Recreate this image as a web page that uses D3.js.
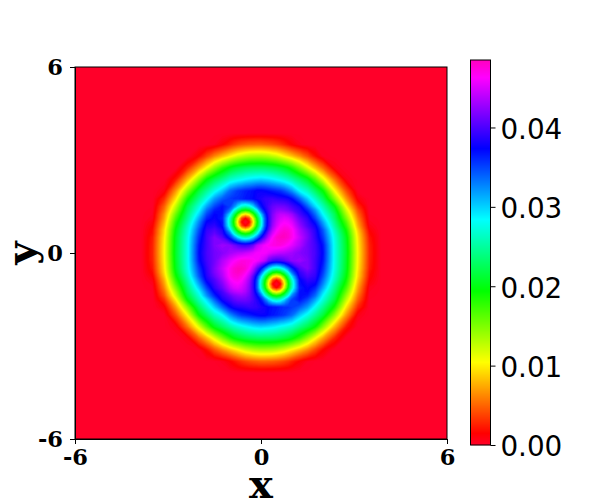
<!DOCTYPE html>
<html>
<head>
<meta charset="utf-8">
<title>Density map</title>
<style>
  html, body { margin: 0; padding: 0; background: #fff; }
  svg { display: block; }
  .main-axis text { font-family: "DejaVu Serif", serif; font-weight: bold; font-size: 22.5px; fill: #000; }
  .bar-axis text { font-family: "DejaVu Sans", sans-serif; font-size: 27.8px; fill: #000; }
  .axis-title { font-family: "DejaVu Serif", serif; font-weight: bold; font-size: 40px; fill: #000; }
</style>
</head>
<body>
<div id="chart"></div>
<script src="https://d3js.org/d3.v7.min.js"></script>
<script>
// grid positions of the estimated samples (finer around the two dark cores)
var xValues = [-3.875,-3.5,-3.125,-2.75,-2.375,-2,-1.75,-1.5,-1.25,-1,-0.875,-0.75,-0.625,-0.5,-0.375,-0.25,-0.125,0,0.125,0.25,0.375,0.5,0.625,0.75,0.875,1,1.25,1.5,1.75,2,2.375,2.75,3.125,3.5,3.875];
var yValues = [3.875,3.5,3.125,2.75,2.375,2,1.75,1.5,1.375,1.25,1.125,1,0.875,0.75,0.625,0.5,0.25,0,-0.25,-0.5,-0.625,-0.75,-0.875,-1,-1.125,-1.25,-1.375,-1.5,-1.75,-2,-2.375,-2.75,-3.125,-3.5,-3.875];

// density, in units of 0.0001, one row per yValues entry
var density = [
[0,0,0,0,0,0,0,0,0,0,0,0,0,0,0,0,0,0,0,0,0,0,0,0,0,0,0,0,0,0,0,0,0,0,0],
[0,0,0,0,0,0,1,4,14,27,34,39,43,46,48,49,50,50,48,46,43,39,34,28,21,15,5,1,0,0,0,0,0,0,0],
[0,0,0,0,0,17,40,63,83,101,110,119,125,131,135,137,138,138,136,133,127,122,113,103,94,85,65,44,20,3,0,0,0,0,0],
[0,0,0,0,28,73,107,144,176,200,209,215,220,224,226,227,228,228,227,224,222,218,212,205,196,183,151,115,81,51,8,0,0,0,0],
[0,0,0,24,80,148,195,222,243,266,272,278,282,288,292,296,298,300,298,295,290,284,278,271,263,252,230,206,165,117,56,8,0,0,0],
[0,0,9,69,145,217,248,278,305,338,347,355,360,365,368,372,378,378,375,371,366,362,358,349,337,324,286,264,230,196,107,44,1,0,0],
[0,0,30,97,187,245,280,320,342,355,359,360,363,368,370,374,381,385,391,393,394,391,388,386,382,372,339,302,266,228,148,70,12,0,0],
[0,1,50,128,217,274,318,351,370,352,328,295,268,258,270,297,335,368,385,400,410,415,415,414,408,399,382,342,298,260,198,103,32,0,0],
[0,2,58,142,226,286,337,366,372,330,278,233,198,185,198,235,282,340,375,398,415,425,428,425,420,410,392,363,323,273,213,122,44,0,0],
[0,4,67,157,235,300,350,375,370,293,232,170,115,95,115,172,235,300,355,395,420,435,443,443,438,430,400,378,337,286,226,136,53,1,0],
[0,6,73,170,243,315,363,378,365,265,196,115,44,16,44,115,200,272,342,392,422,440,450,455,452,442,412,390,352,302,233,151,62,3,0],
[0,11,80,182,252,328,376,384,370,258,183,95,16,0,16,95,188,265,342,392,425,445,457,463,460,452,420,397,367,317,243,166,70,5,0],
[0,15,87,190,262,337,385,392,372,268,198,115,44,16,44,115,200,272,345,395,430,450,465,470,468,460,428,402,380,330,252,178,77,9,0],
[0,19,94,198,268,347,392,402,385,295,233,170,115,95,115,172,235,300,360,405,440,460,472,478,476,468,436,412,387,344,262,190,87,14,0],
[0,21,96,202,272,354,396,410,392,335,278,233,198,185,198,235,282,340,385,425,452,470,480,484,480,470,440,418,390,350,270,198,94,19,0],
[0,25,100,206,276,360,398,420,405,362,330,295,270,260,270,297,335,375,410,442,465,480,485,485,480,470,445,420,392,356,275,204,98,23,0],
[0,27,103,208,278,369,398,420,430,425,415,405,398,395,400,412,440,452,462,468,473,475,475,470,463,455,437,415,398,369,278,208,102,27,0],
[0,28,104,210,278,372,400,415,422,432,436,440,442,446,450,456,462,462,462,456,450,446,442,440,436,432,422,415,400,372,278,210,104,28,0],
[0,27,102,208,278,369,398,415,437,455,463,470,475,475,473,468,462,452,440,412,400,395,398,405,415,425,430,420,398,369,278,208,103,27,0],
[0,23,98,204,275,356,392,420,445,470,480,485,485,480,465,442,410,375,335,297,270,260,270,295,330,362,405,420,398,360,276,206,100,25,0],
[0,19,94,198,270,350,390,418,440,470,480,484,480,470,452,425,385,340,282,235,198,185,198,233,278,335,392,410,396,354,272,202,96,21,0],
[0,14,87,190,262,344,387,412,436,468,476,478,472,460,440,405,360,300,235,172,115,95,115,170,233,295,385,402,392,347,268,198,94,19,0],
[0,9,77,178,252,330,380,402,428,460,468,470,465,450,430,395,345,272,200,115,44,16,44,115,198,268,372,392,385,337,262,190,87,15,0],
[0,5,70,166,243,317,367,397,420,452,460,463,457,445,425,392,342,265,188,95,16,0,16,95,183,258,370,384,376,328,252,182,80,11,0],
[0,3,62,151,233,302,352,390,412,442,452,455,450,440,422,392,342,272,200,115,44,16,44,115,196,265,365,378,363,315,243,170,73,6,0],
[0,1,53,136,226,286,337,378,400,430,438,443,443,435,420,395,355,300,235,172,115,95,115,170,232,293,370,375,350,300,235,157,67,4,0],
[0,0,44,122,213,273,323,363,392,410,420,425,428,425,415,398,375,340,282,235,198,185,198,233,278,330,372,366,337,286,226,142,58,2,0],
[0,0,32,103,198,260,298,342,382,399,408,414,415,415,410,400,385,368,335,297,270,258,268,295,328,352,370,351,318,274,217,128,50,1,0],
[0,0,12,70,148,228,266,302,339,372,382,386,388,391,394,393,391,385,381,374,370,368,363,360,359,355,342,320,280,245,187,97,30,0,0],
[0,0,1,44,107,196,230,264,286,324,337,349,358,362,366,371,375,378,378,372,368,365,360,355,347,338,305,278,248,217,145,69,9,0,0],
[0,0,0,8,56,117,165,206,230,252,263,271,278,284,290,295,298,300,298,296,292,288,282,278,272,266,243,222,195,148,80,24,0,0,0],
[0,0,0,0,8,51,81,115,151,183,196,205,212,218,222,224,227,228,228,227,226,224,220,215,209,200,176,144,107,73,28,0,0,0,0],
[0,0,0,0,0,3,20,44,65,85,94,103,113,122,127,133,136,138,138,137,135,131,125,119,110,101,83,63,40,17,0,0,0,0,0],
[0,0,0,0,0,0,0,1,5,15,21,28,34,39,43,46,48,50,50,49,48,46,43,39,34,27,14,4,1,0,0,0,0,0,0],
[0,0,0,0,0,0,0,0,0,0,0,0,0,0,0,0,0,0,0,0,0,0,0,0,0,0,0,0,0,0,0,0,0,0,0]
];

var zMax = 0.0485;
var axisTicks = [-6, 0, 6];
var barTicks = [0, 0.01, 0.02, 0.03, 0.04];
// colormap stops (fraction of the range) and their colours
var colorStops = [0, 0.03, 0.215, 0.4, 0.586, 0.77, 0.954, 1];
var colorList = ["#ff0029", "#ff0000", "#ffff00", "#00ff00", "#00ffff", "#0000ff", "#ff00ff", "#ff00bf"];

var svg = d3.select("#chart").append("svg")
  .attr("width", 600)
  .attr("height", 500);

var x = d3.scaleLinear().domain([-6, 6]).range([75, 447]);
var y = d3.scaleLinear().domain([-6, 6]).range([439, 67]);
var color = d3.scaleLinear().domain(colorStops.map(function(d) { return d * zMax; })).range(colorList);

// index on the grid -> data position, the grid is not evenly spaced
var xIndex = d3.scaleLinear().domain(d3.range(xValues.length)).range(xValues);
var yIndex = d3.scaleLinear().domain(d3.range(yValues.length)).range(yValues);

var project = d3.geoTransform({
  point: function(px, py) {
    this.stream.point(x(xIndex(px - 0.5)), y(yIndex(py - 0.5)));
  }
});
var path = d3.geoPath(project);

var levels = d3.range(1, 486, 3);
var contours = d3.contours()
  .size([xValues.length, yValues.length])
  .thresholds(levels)(d3.merge(density));

svg.append("rect")
  .attr("x", x(-6)).attr("y", y(6))
  .attr("width", x(6) - x(-6)).attr("height", y(-6) - y(6))
  .attr("fill", color(0));

svg.append("g").selectAll("path")
  .data(contours)
  .join("path")
  .attr("d", path)
  .attr("fill", function(d) { return color(d.value / 10000); });

// frame and axes
svg.append("rect")
  .attr("x", x(-6)).attr("y", y(6))
  .attr("width", x(6) - x(-6)).attr("height", y(-6) - y(6))
  .attr("fill", "none").attr("stroke", "#000");

svg.append("g").attr("class", "main-axis")
  .attr("transform", "translate(0,439)")
  .call(d3.axisBottom(x).tickValues(axisTicks).tickSize(5).tickPadding(5).tickFormat(String));

svg.append("g").attr("class", "main-axis")
  .attr("transform", "translate(75,0)")
  .call(d3.axisLeft(y).tickValues(axisTicks).tickSize(5).tickPadding(7).tickFormat(String));

svg.append("text").attr("class", "axis-title")
  .attr("x", 261).attr("y", 498)
  .attr("text-anchor", "middle")
  .text("x");

svg.append("text").attr("class", "axis-title")
  .attr("transform", "translate(35,253) rotate(-90)")
  .attr("text-anchor", "middle")
  .text("y");

// colour bar
var barY = d3.scaleLinear().domain([0, zMax]).range([445, 60]);
svg.append("g").selectAll("rect")
  .data(d3.range(60, 445))
  .join("rect")
  .attr("x", 471).attr("y", function(d) { return d; })
  .attr("width", 20).attr("height", 1.2)
  .attr("fill", function(d) { return color(barY.invert(d + 0.5)); });

svg.append("rect")
  .attr("x", 470.5).attr("y", 60)
  .attr("width", 20).attr("height", 385)
  .attr("fill", "none").attr("stroke", "#000");

svg.append("g").attr("class", "bar-axis")
  .attr("transform", "translate(490.5,0)")
  .call(d3.axisRight(barY).tickValues(barTicks).tickSize(5).tickPadding(4.9).tickFormat(d3.format(".2f")))
  .call(function(g) {
    g.select(".domain").remove();
    g.selectAll("text").attr("dy", "0.39em");
  });
</script>
</body>
</html>
